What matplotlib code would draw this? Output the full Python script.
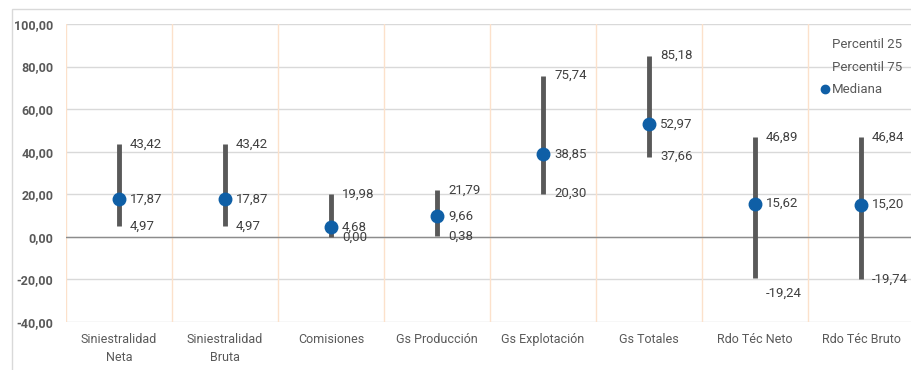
import matplotlib.pyplot as plt
from matplotlib.lines import Line2D
from matplotlib.patches import Rectangle
import numpy as np

plt.rcParams['font.family'] = ['Roboto', 'DejaVu Sans']

categorias = ['Siniestralidad\nNeta', 'Siniestralidad\nBruta', 'Comisiones', 'Gs Producción',
              'Gs Explotación', 'Gs Totales', 'Rdo Téc Neto', 'Rdo Téc Bruto']
p25 = [4.97, 4.97, 0.00, 0.38, 20.30, 37.66, -19.24, -19.74]
p75 = [43.42, 43.42, 19.98, 21.79, 75.74, 85.18, 46.89, 46.84]
mediana = [17.87, 17.87, 4.68, 9.66, 38.85, 52.97, 15.62, 15.20]

def fmt(v):
    return ('%.2f' % v).replace('.', ',')

fig = plt.figure(figsize=(9.11, 3.70), dpi=100)
# marco exterior
fig.patches.append(Rectangle((12 / 911, -0.1), 1.0, 1 - 9 / 370 + 0.1, transform=fig.transFigure,
                             fill=False, edgecolor='#D9D9D9', linewidth=1))
ax = fig.add_axes([66 / 911, 1 - 322 / 370, 848 / 911, 298 / 370])

x = np.arange(len(categorias))
ax.set_xlim(-0.5, len(categorias) - 0.5)
ax.set_ylim(-40, 100)
ax.set_yticks(np.arange(-40, 101, 20))
ax.set_yticklabels([fmt(v) for v in np.arange(-40, 101, 20)], fontweight='bold',
                   color='#595959', fontsize=9)
ax.set_xticks(x)
ax.set_xticklabels(categorias, color='#595959', fontsize=9, linespacing=1.5)
ax.tick_params(length=0, pad=8)
ax.tick_params(axis='y', pad=9)
for s in ax.spines.values():
    s.set_visible(False)

for v in np.arange(-40, 101, 20):
    ax.axhline(v, color='#D9D9D9', lw=1, zorder=0)
ax.axhline(0, color='#8C8C8C', lw=1, zorder=1)
for sep in np.arange(-0.5, len(categorias) - 0.5, 1):
    ax.axvline(sep, color='#FCE1CB', lw=1, zorder=0)

ax.vlines(x, p25, p75, color='#595959', lw=3.5, zorder=2)
ax.plot(x, mediana, 'o', color='#0F5FA6', markersize=9, zorder=3)

lbl = dict(fontsize=9.5, color='#404040', va='center', ha='left', textcoords='offset points')
for i in range(len(categorias)):
    ax.annotate(fmt(p75[i]), (x[i], p75[i]), xytext=(8, 0), **lbl)
    ax.annotate(fmt(mediana[i]), (x[i], mediana[i]), xytext=(8, 0), **lbl)
    dy = -11 if i == 6 else 0
    ax.annotate(fmt(p25[i]), (x[i], p25[i]), xytext=(8, dy), **lbl)

handles = [Line2D([], [], linestyle='none'), Line2D([], [], linestyle='none'),
           Line2D([], [], linestyle='none', marker='o', color='#0F5FA6', markersize=6)]
leg = ax.legend(handles, ['Percentil 25', 'Percentil 75', 'Mediana'], loc='upper right',
                bbox_to_anchor=(0.997, 0.985), frameon=False, fontsize=9.5, handlelength=0.6,
                handletextpad=0.2, labelspacing=0.75, borderaxespad=0.3)
for t in leg.get_texts():
    t.set_color('#595959')

fig.savefig('out.png', dpi=100)
